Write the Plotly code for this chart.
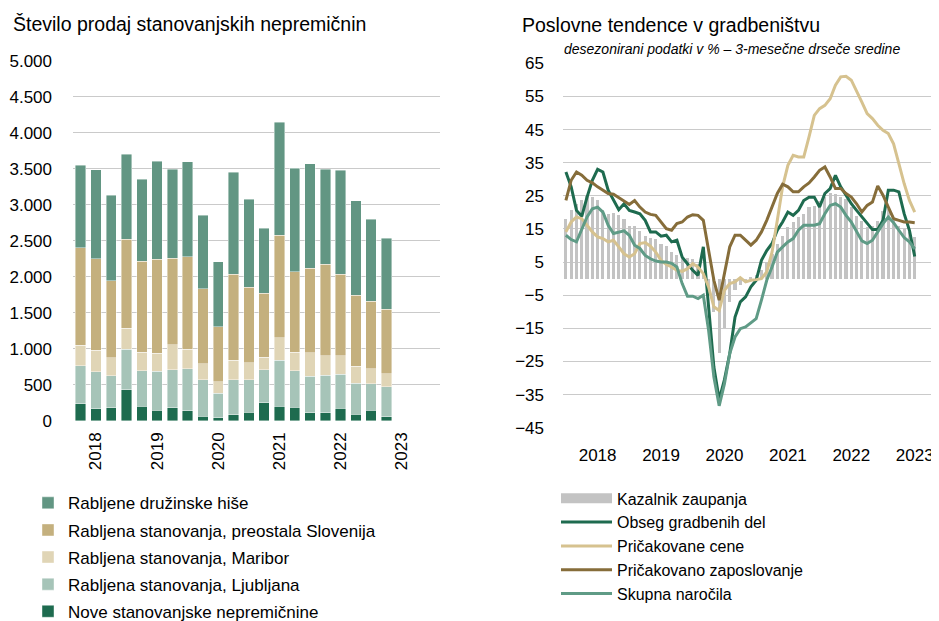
import plotly.graph_objects as go

# ---------------- Left panel data (quarterly, 2018Q1 - 2023Q1) ----------------
quarters = [f"{y}Q{q}" for y in range(2018, 2024) for q in range(1, 5)][:21]
year_labels = ["2018", "2019", "2020", "2021", "2022", "2023"]

nove = [236, 171, 185, 435, 208, 148, 185, 143, 69, 46, 88, 120, 250, 208, 194, 111, 111, 180, 97, 148, 60]
ljubljana = [532, 514, 444, 564, 490, 541, 527, 583, 505, 338, 486, 454, 458, 638, 504, 513, 527, 468, 430, 370, 416]
maribor = [282, 300, 250, 287, 259, 250, 343, 273, 217, 162, 272, 235, 180, 306, 259, 320, 267, 254, 236, 204, 181]
preostala = [1355, 1268, 1064, 1239, 1263, 1304, 1207, 1281, 1041, 763, 1189, 1050, 883, 1424, 1115, 1179, 1267, 1133, 985, 938, 893]
hise = [1147, 1235, 1188, 1175, 1138, 1360, 1230, 1319, 1022, 902, 1415, 1217, 902, 1568, 1434, 1448, 1323, 1443, 1309, 1143, 989]

# ---------------- Right panel data (monthly, Jan 2018 - Jul 2023) ----------------
months = [f"{2018 + i // 12}-{i % 12 + 1:02d}" for i in range(67)]
kazalnik = [18.1, 20.8, 22.5, 23.8, 24.8, 24.6, 23.6, 20.6, 19.5, 19.8, 19.1, 18.1,
            16.0, 15.9, 14.3, 12.8, 12.4, 11.9, 10.6, 9.7, 7.9, 7.0, 6.5, 6.2,
            6.0, 4.5, 2.0, -3.0, -10.0, -22.5, -15.0, -7.0, -3.5, -2.0, -1.0, 0.5,
            1.0, 2.5, 5.0, 7.5, 10.5, 13.0, 15.5, 17.0, 18.5, 19.5, 21.5, 22.0,
            23.5, 24.5, 26.0, 25.5, 24.5, 24.0, 21.5, 19.0, 17.5, 15.5, 16.0, 17.5,
            20.5, 21.0, 18.0, 16.0, 15.0, 14.0, 12.5]
obseg = [32.2, 27.7, 20.6, 18.8, 24.6, 29.7, 33.0, 32.2, 26.7, 23.6, 20.8, 22.6,
         20.6, 20.1, 19.6, 17.6, 14.1, 14.1, 12.8, 13.1, 11.1, 11.6, 6.5, 4.5,
         2.5, 1.0, 9.6, -8.5, -26.7, -36.5, -30.5, -22.6, -11.6, -7.0, -5.5, -2.5,
         -0.5, 5.5, 8.5, 10.6, 14.6, 17.1, 20.1, 19.1, 20.6, 23.6, 24.6, 24.6,
         21.6, 25.7, 27.2, 31.2, 27.7, 25.2, 22.6, 20.6, 18.6, 16.6, 14.8, 14.8,
         17.6, 26.7, 26.7, 26.2, 19.6, 14.6, 6.7]
cene = [14.1, 17.1, 18.6, 18.1, 16.1, 14.1, 12.6, 12.1, 11.1, 11.6, 9.6, 7.5,
        6.5, 7.5, 10.6, 10.9, 9.8, 8.0, 5.5, 4.3, 3.5, 2.5, 2.2, 3.0,
        4.5, 3.5, 1.5, -2.5, -8.5, -9.6, -3.5, -1.5, -1.0, 0.3, -1.0, -0.5,
        -0.3, 0.0, 2.0, 8.0, 17.6, 27.7, 34.2, 37.2, 36.7, 36.7, 42.8, 49.3,
        51.3, 52.3, 54.3, 58.4, 60.9, 61.1, 59.9, 56.8, 53.3, 49.8, 48.3, 46.3,
        44.8, 43.8, 40.7, 34.7, 28.7, 23.6, 20.1]
zaposlovanje = [23.6, 29.7, 32.2, 31.2, 29.7, 28.9, 27.7, 26.7, 25.7, 25.5, 24.4, 23.4,
                22.4, 23.6, 21.6, 20.1, 19.4, 19.1, 17.1, 15.1, 14.6, 16.6, 17.1, 18.6,
                19.3, 19.1, 17.6, 8.5, -0.5, -6.5, 1.5, 9.6, 13.1, 13.1, 11.6, 10.1,
                11.6, 14.1, 17.6, 21.6, 25.7, 28.5, 27.7, 26.2, 26.2, 27.7, 28.9, 30.7,
                32.7, 33.7, 30.7, 27.2, 27.2, 25.7, 24.6, 22.6, 20.1, 22.1, 23.1, 28.0,
                25.2, 21.6, 18.1, 17.6, 17.1, 17.1, 16.9]
narocila = [13.1, 11.8, 11.1, 14.6, 18.6, 21.1, 21.6, 20.1, 16.1, 13.6, 14.1, 14.4,
            13.1, 10.1, 9.1, 7.0, 6.0, 5.3, 5.0, 5.0, 4.6, 3.5, -1.5, -5.3,
            -5.3, -6.0, -5.0, -15.6, -29.7, -38.4, -31.7, -22.6, -17.6, -15.1, -14.6, -13.4,
            -12.1, -6.5, -0.5, 3.5, 8.0, 9.6, 11.1, 12.1, 14.6, 16.1, 16.1, 16.1,
            16.6, 19.6, 22.1, 22.6, 21.6, 19.1, 17.1, 14.1, 11.4, 10.6, 11.6, 14.1,
            16.6, 18.6, 16.9, 14.6, 12.4, 11.1, 9.0]

# ---------------- styles ----------------
C_NOVE = "#1E6B4F"
C_LJ = "#A6C4B8"
C_MB = "#E0D5B6"
C_PRE = "#C4B07E"
C_HISE = "#629683"
C_GRAY = "#C3C3C3"
C_OBSEG = "#1E6B4F"
C_CENE = "#D6C28F"
C_ZAP = "#866D3A"
C_NAR = "#5F9B86"
FONT = "Liberation Sans, Arial, sans-serif"

# The page body adds an 8px offset; the figure is made a bit taller than the
# window so that the bottom legend row may run to the window edge as in the original.
OFF = 8
W, H = 939, 640


def px_x(p):
    return (p - OFF) / W


def px_y(p):
    return 1 - (p - OFF) / H


qx = list(range(len(quarters)))
mx = list(range(len(months)))

fig = go.Figure()

left_series = [
    ("Nove stanovanjske nepremičnine", nove, C_NOVE, 5),
    ("Rabljena stanovanja, Ljubljana", ljubljana, C_LJ, 4),
    ("Rabljena stanovanja, Maribor", maribor, C_MB, 3),
    ("Rabljena stanovanja, preostala Slovenija", preostala, C_PRE, 2),
    ("Rabljene družinske hiše", hise, C_HISE, 1),
]
for name, vals, col, rank in left_series:
    fig.add_trace(go.Bar(
        x=qx, y=vals, name=name, customdata=quarters,
        marker=dict(color=col, line=dict(color="rgba(255,255,255,0.7)", width=0.6)),
        width=0.68, xaxis="x", yaxis="y", legend="legend",
        legendgroup=f"L{rank}", legendrank=rank,
        hovertemplate="%{customdata}: %{y}<extra>" + name + "</extra>",
    ))

# right panel: confidence indicator bars
fig.add_trace(go.Bar(
    x=mx, y=kazalnik, name="Kazalnik zaupanja", customdata=months,
    marker=dict(color=C_GRAY, line=dict(width=0)), width=0.6,
    xaxis="x2", yaxis="y2", showlegend=False, legendgroup="R0",
    hovertemplate="%{customdata}: %{y}<extra>Kazalnik zaupanja</extra>",
))
# legend entry for the bars (wide grey rectangle as in the original)
fig.add_trace(go.Scatter(
    x=[None], y=[None], mode="lines", name="Kazalnik zaupanja",
    line=dict(color=C_GRAY, width=10), xaxis="x2", yaxis="y2",
    legend="legend2", legendgroup="R0", legendrank=1, hoverinfo="skip",
))
right_lines = [
    ("Obseg gradbenih del", obseg, C_OBSEG),
    ("Pričakovane cene", cene, C_CENE),
    ("Pričakovano zaposlovanje", zaposlovanje, C_ZAP),
    ("Skupna naročila", narocila, C_NAR),
]
for i, (name, vals, col) in enumerate(right_lines):
    fig.add_trace(go.Scatter(
        x=mx, y=vals, name=name, mode="lines", customdata=months,
        line=dict(color=col, width=3), xaxis="x2", yaxis="y2",
        legend="legend2", legendgroup=f"R{i+1}", legendrank=i + 2,
        hovertemplate="%{customdata}: %{y}<extra>" + name + "</extra>",
    ))

tick_font = dict(family=FONT, size=17, color="#000000")
grid = "#CACACA"

left_ticks = list(range(0, 5001, 500))
fig.update_layout(
    width=W, height=H,
    margin=dict(l=0, r=0, t=0, b=0),
    paper_bgcolor="white", plot_bgcolor="white",
    barmode="stack",
    font=dict(family=FONT, size=17, color="#000000"),
    xaxis=dict(
        domain=[px_x(73), px_x(440)], range=[-0.5, 23.5],
        tickvals=[qx[1] + 4 * k for k in range(6)], ticktext=year_labels,
        tickangle=-90, showgrid=False, zeroline=False, showline=False,
        ticks="", tickfont=tick_font, ticklabelstandoff=7, fixedrange=True,
        automargin=False,
    ),
    yaxis=dict(
        domain=[px_y(421), px_y(60.7)], range=[0, 5000],
        tickvals=left_ticks, ticktext=[f"{v:,}".replace(",", ".") for v in left_ticks],
        showgrid=True, gridcolor=grid, gridwidth=1, zeroline=False, showline=False,
        ticks="", tickfont=tick_font, ticklabelstandoff=20, fixedrange=True,
        automargin=False,
    ),
    xaxis2=dict(
        domain=[px_x(563), px_x(938.5)], range=[-0.55, 70.5],
        tickvals=[6 + 12 * k for k in range(6)], ticktext=year_labels,
        showgrid=False, zeroline=False, showline=False, ticks="",
        tickfont=tick_font, ticklabelstandoff=15, anchor="y2", fixedrange=True,
        automargin=False,
    ),
    yaxis2=dict(
        domain=[px_y(427.7), px_y(63.3)], range=[-45, 65],
        tickmode="linear", tick0=-45, dtick=10,
        showgrid=True, gridcolor=grid, gridwidth=1, zeroline=False, showline=False,
        ticks="", tickfont=tick_font, ticklabelstandoff=18, anchor="x2", fixedrange=True,
        automargin=False,
    ),
    legend=dict(
        x=px_x(28), y=px_y(485.3), xanchor="left", yanchor="top",
        traceorder="grouped", tracegroupgap=2,
        font=dict(family=FONT, size=17, color="#000000"),
        bgcolor="rgba(0,0,0,0)", borderwidth=0, itemclick=False, itemdoubleclick=False,
    ),
    legend2=dict(
        x=px_x(556), y=px_y(481.4), xanchor="left", yanchor="top",
        traceorder="grouped", tracegroupgap=0, itemwidth=51,
        font=dict(family=FONT, size=16, color="#000000"),
        bgcolor="rgba(0,0,0,0)", borderwidth=0, itemclick=False, itemdoubleclick=False,
    ),
    showlegend=True,
    annotations=[
        dict(text="Število prodaj stanovanjskih nepremičnin", x=px_x(11), y=px_y(24),
             xref="paper", yref="paper", xanchor="left", yanchor="middle", showarrow=False,
             font=dict(family=FONT, size=19.5, color="#000000")),
        dict(text="Poslovne tendence v gradbeništvu", x=px_x(520), y=px_y(25),
             xref="paper", yref="paper", xanchor="left", yanchor="middle", showarrow=False,
             font=dict(family=FONT, size=19.5, color="#000000")),
        dict(text="<i>desezonirani podatki v % – 3-mesečne drseče sredine</i>",
             x=px_x(562), y=px_y(49), xref="paper", yref="paper",
             xanchor="left", yanchor="middle", showarrow=False,
             font=dict(family=FONT, size=14, color="#000000")),
    ],
)

fig.write_html("out.html")
